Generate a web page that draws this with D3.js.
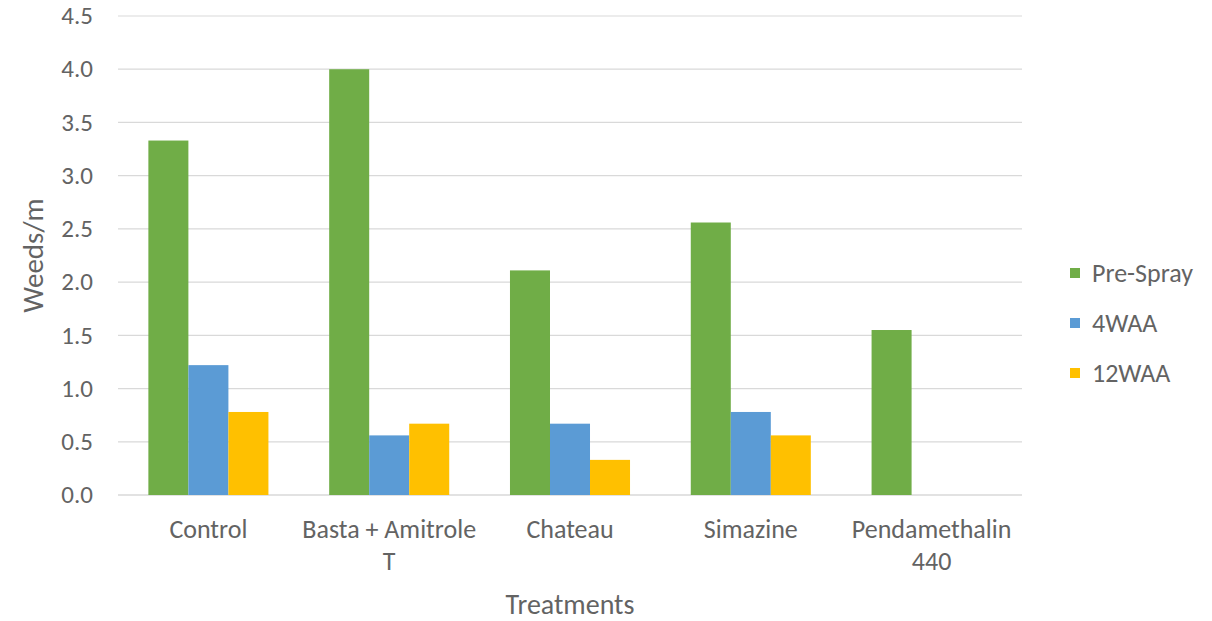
<!DOCTYPE html>
<html lang="en">
<head>
<meta charset="UTF-8">
<title>Weeds/m by treatment</title>
<script src="https://d3js.org/d3.v7.min.js"></script>
<style>
    body { margin: 0; background: #fff; overflow: hidden; }
    svg text { font-family: Carlito, Calibri, "Liberation Sans Narrow", "Open Sans", sans-serif; fill: #636363; }
</style>
</head>
<body>
<svg id="chart" width="1212" height="621"></svg>
<script>
    const treatments = ["Control", "Basta + Amitrole T", "Chateau", "Simazine", "Pendamethalin 440"];
    const treatmentLines = [["Control"], ["Basta + Amitrole", "T"], ["Chateau"], ["Simazine"], ["Pendamethalin", "440"]];
    const seriesNames = ["Pre-Spray", "4WAA", "12WAA"];
    const seriesColors = ["#70ad47", "#5b9bd5", "#ffc000"];
    const preSpray = [3.33, 4.0, 2.11, 2.56, 1.55];
    const waa4 = [1.22, 0.56, 0.67, 0.78, 0];
    const waa12 = [0.78, 0.67, 0.33, 0.56, 0];
    const yTicks = [0, 0.5, 1, 1.5, 2, 2.5, 3, 3.5, 4, 4.5];

    const values = [preSpray, waa4, waa12];
    const svg = d3.select('#chart');
    const margin = { left: 118, right: 1022, top: 16, bottom: 495 };

    const x = d3.scaleBand()
        .domain(treatments)
        .range([margin.left, margin.right])
        .paddingInner(0.336)
        .paddingOuter(0.168);

    const xs = d3.scaleBand()
        .domain(seriesNames)
        .range([0, x.bandwidth()]);

    const y = d3.scaleLinear()
        .domain([0, 4.5])
        .range([margin.bottom, margin.top]);

    // gridlines
    svg.append('g')
        .selectAll('line')
        .data(yTicks)
        .join('line')
        .attr('x1', margin.left)
        .attr('x2', margin.right)
        .attr('y1', d => y(d))
        .attr('y2', d => y(d))
        .attr('stroke', '#d9d9d9')
        .attr('stroke-width', d => d === 0 ? 1.5 : 1.2);

    // y tick labels
    svg.append('g')
        .selectAll('text')
        .data(yTicks)
        .join('text')
        .attr('x', 93)
        .attr('y', d => y(d))
        .attr('dy', '0.33em')
        .attr('text-anchor', 'end')
        .attr('font-size', 25)
        .text(d => d3.format('.1f')(d));

    // bars
    const groups = svg.append('g')
        .selectAll('g')
        .data(seriesNames)
        .join('g')
        .attr('fill', (d, i) => seriesColors[i]);

    groups.selectAll('rect')
        .data((s, si) => treatments.map((t, ti) => ({ t, s, v: values[si][ti] })))
        .join('rect')
        .attr('x', d => x(d.t) + xs(d.s))
        .attr('width', xs.bandwidth())
        .attr('y', d => y(d.v))
        .attr('height', d => y(0) - y(d.v));

    // category labels
    const cats = svg.append('g')
        .selectAll('text')
        .data(treatments)
        .join('text')
        .attr('x', d => x(d) + x.bandwidth() / 2)
        .attr('y', 538)
        .attr('text-anchor', 'middle')
        .attr('font-size', 26);

    cats.selectAll('tspan')
        .data((d, i) => treatmentLines[i])
        .join('tspan')
        .attr('x', function () { return d3.select(this.parentNode).attr('x'); })
        .attr('dy', (d, i) => i === 0 ? 0 : 32)
        .text(d => d);

    // axis titles
    svg.append('text')
        .attr('x', (margin.left + margin.right) / 2)
        .attr('y', 614)
        .attr('text-anchor', 'middle')
        .attr('font-size', 28)
        .text('Treatments');

    svg.append('text')
        .attr('transform', `translate(43, ${(margin.top + margin.bottom) / 2}) rotate(-90)`)
        .attr('text-anchor', 'middle')
        .attr('font-size', 29)
        .text('Weeds/m');

    // legend
    const legend = svg.append('g')
        .selectAll('g')
        .data(seriesNames)
        .join('g')
        .attr('transform', (d, i) => `translate(1070, ${273 + i * 50})`);

    legend.append('rect')
        .attr('x', 0)
        .attr('y', -5)
        .attr('width', 10)
        .attr('height', 10)
        .attr('fill', (d, i) => seriesColors[i]);

    legend.append('text')
        .attr('x', 22)
        .attr('dy', '0.33em')
        .attr('font-size', 26)
        .text(d => d);
</script>
</body>
</html>
